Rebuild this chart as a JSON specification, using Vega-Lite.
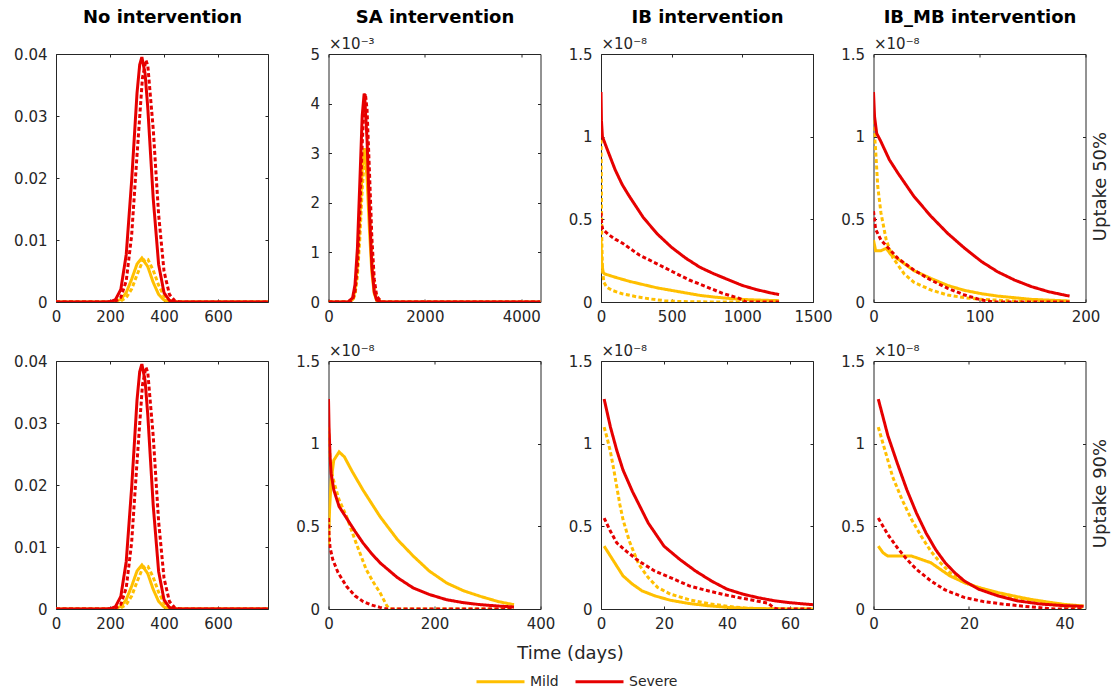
{
"$schema": "https://vega.github.io/schema/vega-lite/v6.json",
"background": "white",
"padding": {"left": 13, "top": 7, "right": 5, "bottom": 5},
"config": {
  "view": {"stroke": "#262626", "strokeWidth": 1},
  "font": "DejaVu Sans",
  "axis": {"grid": false, "domain": false, "tickSize": -3, "tickColor": "#262626", "labelFont": "DejaVu Sans", "labelFontSize": 15, "labelColor": "#262626", "labelFlush": false, "labelOverlap": false, "labelBound": false, "titleFont": "DejaVu Sans", "titleColor": "#262626"},
  "axisX": {"labelPadding": 10},
  "axisY": {"labelPadding": 12}
},
"datasets": {"d": [
{"panel":"A1","severity":"Mild","line":"solid","t":0,"y":0},{"panel":"A1","severity":"Mild","line":"solid","t":150,"y":0},{"panel":"A1","severity":"Mild","line":"solid","t":200,"y":0.00001},{"panel":"A1","severity":"Mild","line":"solid","t":220,"y":0.00009},{"panel":"A1","severity":"Mild","line":"solid","t":240,"y":0.00043},{"panel":"A1","severity":"Mild","line":"solid","t":260,"y":0.00151},{"panel":"A1","severity":"Mild","line":"solid","t":280,"y":0.00366},{"panel":"A1","severity":"Mild","line":"solid","t":300,"y":0.00612},{"panel":"A1","severity":"Mild","line":"solid","t":318,"y":0.0071},{"panel":"A1","severity":"Mild","line":"solid","t":340,"y":0.00569},{"panel":"A1","severity":"Mild","line":"solid","t":360,"y":0.00316},{"panel":"A1","severity":"Mild","line":"solid","t":380,"y":0.00122},{"panel":"A1","severity":"Mild","line":"solid","t":400,"y":0.00032},{"panel":"A1","severity":"Mild","line":"solid","t":420,"y":0.00006},{"panel":"A1","severity":"Mild","line":"solid","t":440,"y":0.00001},{"panel":"A1","severity":"Mild","line":"solid","t":460,"y":0},{"panel":"A1","severity":"Mild","line":"solid","t":785,"y":0},
{"panel":"A1","severity":"Mild","line":"dotted","t":0,"y":0},{"panel":"A1","severity":"Mild","line":"dotted","t":200,"y":0.000003},{"panel":"A1","severity":"Mild","line":"dotted","t":220,"y":0.00003},{"panel":"A1","severity":"Mild","line":"dotted","t":240,"y":0.00017},{"panel":"A1","severity":"Mild","line":"dotted","t":260,"y":0.0007},{"panel":"A1","severity":"Mild","line":"dotted","t":280,"y":0.00208},{"panel":"A1","severity":"Mild","line":"dotted","t":300,"y":0.00437},{"panel":"A1","severity":"Mild","line":"dotted","t":320,"y":0.00651},{"panel":"A1","severity":"Mild","line":"dotted","t":333,"y":0.007},{"panel":"A1","severity":"Mild","line":"dotted","t":340,"y":0.0069},{"panel":"A1","severity":"Mild","line":"dotted","t":360,"y":0.00511},{"panel":"A1","severity":"Mild","line":"dotted","t":380,"y":0.0027},{"panel":"A1","severity":"Mild","line":"dotted","t":400,"y":0.001},{"panel":"A1","severity":"Mild","line":"dotted","t":420,"y":0.00027},{"panel":"A1","severity":"Mild","line":"dotted","t":440,"y":0.00006},{"panel":"A1","severity":"Mild","line":"dotted","t":460,"y":0.00001},{"panel":"A1","severity":"Mild","line":"dotted","t":480,"y":0},{"panel":"A1","severity":"Mild","line":"dotted","t":785,"y":0},
{"panel":"A1","severity":"Severe","line":"solid","t":0,"y":0},{"panel":"A1","severity":"Severe","line":"solid","t":180,"y":0.000004},{"panel":"A1","severity":"Severe","line":"solid","t":200,"y":0.000044},{"panel":"A1","severity":"Severe","line":"solid","t":220,"y":0.00036},{"panel":"A1","severity":"Severe","line":"solid","t":240,"y":0.00203},{"panel":"A1","severity":"Severe","line":"solid","t":260,"y":0.00764},{"panel":"A1","severity":"Severe","line":"solid","t":280,"y":0.0195},{"panel":"A1","severity":"Severe","line":"solid","t":300,"y":0.0337},{"panel":"A1","severity":"Severe","line":"solid","t":310,"y":0.0383},{"panel":"A1","severity":"Severe","line":"solid","t":318,"y":0.0395},{"panel":"A1","severity":"Severe","line":"solid","t":330,"y":0.0368},{"panel":"A1","severity":"Severe","line":"solid","t":340,"y":0.0312},{"panel":"A1","severity":"Severe","line":"solid","t":360,"y":0.0167},{"panel":"A1","severity":"Severe","line":"solid","t":380,"y":0.00605},{"panel":"A1","severity":"Severe","line":"solid","t":400,"y":0.00149},{"panel":"A1","severity":"Severe","line":"solid","t":420,"y":0.00025},{"panel":"A1","severity":"Severe","line":"solid","t":440,"y":0.00003},{"panel":"A1","severity":"Severe","line":"solid","t":460,"y":0},{"panel":"A1","severity":"Severe","line":"solid","t":785,"y":0},
{"panel":"A1","severity":"Severe","line":"dotted","t":0,"y":0},{"panel":"A1","severity":"Severe","line":"dotted","t":200,"y":0.00001},{"panel":"A1","severity":"Severe","line":"dotted","t":220,"y":0.00011},{"panel":"A1","severity":"Severe","line":"dotted","t":240,"y":0.00074},{"panel":"A1","severity":"Severe","line":"dotted","t":260,"y":0.00338},{"panel":"A1","severity":"Severe","line":"dotted","t":280,"y":0.0107},{"panel":"A1","severity":"Severe","line":"dotted","t":300,"y":0.0237},{"panel":"A1","severity":"Severe","line":"dotted","t":320,"y":0.0361},{"panel":"A1","severity":"Severe","line":"dotted","t":333,"y":0.039},{"panel":"A1","severity":"Severe","line":"dotted","t":340,"y":0.0381},{"panel":"A1","severity":"Severe","line":"dotted","t":360,"y":0.0279},{"panel":"A1","severity":"Severe","line":"dotted","t":380,"y":0.0141},{"panel":"A1","severity":"Severe","line":"dotted","t":400,"y":0.00497},{"panel":"A1","severity":"Severe","line":"dotted","t":420,"y":0.00121},{"panel":"A1","severity":"Severe","line":"dotted","t":440,"y":0.0002},{"panel":"A1","severity":"Severe","line":"dotted","t":460,"y":0.00002},{"panel":"A1","severity":"Severe","line":"dotted","t":480,"y":0},{"panel":"A1","severity":"Severe","line":"dotted","t":785,"y":0},

{"panel":"B1","severity":"Mild","line":"solid","t":0,"y":0},{"panel":"B1","severity":"Mild","line":"solid","t":150,"y":0},{"panel":"B1","severity":"Mild","line":"solid","t":200,"y":0.00001},{"panel":"B1","severity":"Mild","line":"solid","t":220,"y":0.00009},{"panel":"B1","severity":"Mild","line":"solid","t":240,"y":0.00043},{"panel":"B1","severity":"Mild","line":"solid","t":260,"y":0.00151},{"panel":"B1","severity":"Mild","line":"solid","t":280,"y":0.00366},{"panel":"B1","severity":"Mild","line":"solid","t":300,"y":0.00612},{"panel":"B1","severity":"Mild","line":"solid","t":318,"y":0.0071},{"panel":"B1","severity":"Mild","line":"solid","t":340,"y":0.00569},{"panel":"B1","severity":"Mild","line":"solid","t":360,"y":0.00316},{"panel":"B1","severity":"Mild","line":"solid","t":380,"y":0.00122},{"panel":"B1","severity":"Mild","line":"solid","t":400,"y":0.00032},{"panel":"B1","severity":"Mild","line":"solid","t":420,"y":0.00006},{"panel":"B1","severity":"Mild","line":"solid","t":440,"y":0.00001},{"panel":"B1","severity":"Mild","line":"solid","t":460,"y":0},{"panel":"B1","severity":"Mild","line":"solid","t":785,"y":0},
{"panel":"B1","severity":"Mild","line":"dotted","t":0,"y":0},{"panel":"B1","severity":"Mild","line":"dotted","t":200,"y":0.000003},{"panel":"B1","severity":"Mild","line":"dotted","t":220,"y":0.00003},{"panel":"B1","severity":"Mild","line":"dotted","t":240,"y":0.00017},{"panel":"B1","severity":"Mild","line":"dotted","t":260,"y":0.0007},{"panel":"B1","severity":"Mild","line":"dotted","t":280,"y":0.00208},{"panel":"B1","severity":"Mild","line":"dotted","t":300,"y":0.00437},{"panel":"B1","severity":"Mild","line":"dotted","t":320,"y":0.00651},{"panel":"B1","severity":"Mild","line":"dotted","t":333,"y":0.007},{"panel":"B1","severity":"Mild","line":"dotted","t":340,"y":0.0069},{"panel":"B1","severity":"Mild","line":"dotted","t":360,"y":0.00511},{"panel":"B1","severity":"Mild","line":"dotted","t":380,"y":0.0027},{"panel":"B1","severity":"Mild","line":"dotted","t":400,"y":0.001},{"panel":"B1","severity":"Mild","line":"dotted","t":420,"y":0.00027},{"panel":"B1","severity":"Mild","line":"dotted","t":440,"y":0.00006},{"panel":"B1","severity":"Mild","line":"dotted","t":460,"y":0.00001},{"panel":"B1","severity":"Mild","line":"dotted","t":480,"y":0},{"panel":"B1","severity":"Mild","line":"dotted","t":785,"y":0},
{"panel":"B1","severity":"Severe","line":"solid","t":0,"y":0},{"panel":"B1","severity":"Severe","line":"solid","t":180,"y":0.000004},{"panel":"B1","severity":"Severe","line":"solid","t":200,"y":0.000044},{"panel":"B1","severity":"Severe","line":"solid","t":220,"y":0.00036},{"panel":"B1","severity":"Severe","line":"solid","t":240,"y":0.00203},{"panel":"B1","severity":"Severe","line":"solid","t":260,"y":0.00764},{"panel":"B1","severity":"Severe","line":"solid","t":280,"y":0.0195},{"panel":"B1","severity":"Severe","line":"solid","t":300,"y":0.0337},{"panel":"B1","severity":"Severe","line":"solid","t":310,"y":0.0383},{"panel":"B1","severity":"Severe","line":"solid","t":318,"y":0.0395},{"panel":"B1","severity":"Severe","line":"solid","t":330,"y":0.0368},{"panel":"B1","severity":"Severe","line":"solid","t":340,"y":0.0312},{"panel":"B1","severity":"Severe","line":"solid","t":360,"y":0.0167},{"panel":"B1","severity":"Severe","line":"solid","t":380,"y":0.00605},{"panel":"B1","severity":"Severe","line":"solid","t":400,"y":0.00149},{"panel":"B1","severity":"Severe","line":"solid","t":420,"y":0.00025},{"panel":"B1","severity":"Severe","line":"solid","t":440,"y":0.00003},{"panel":"B1","severity":"Severe","line":"solid","t":460,"y":0},{"panel":"B1","severity":"Severe","line":"solid","t":785,"y":0},
{"panel":"B1","severity":"Severe","line":"dotted","t":0,"y":0},{"panel":"B1","severity":"Severe","line":"dotted","t":200,"y":0.00001},{"panel":"B1","severity":"Severe","line":"dotted","t":220,"y":0.00011},{"panel":"B1","severity":"Severe","line":"dotted","t":240,"y":0.00074},{"panel":"B1","severity":"Severe","line":"dotted","t":260,"y":0.00338},{"panel":"B1","severity":"Severe","line":"dotted","t":280,"y":0.0107},{"panel":"B1","severity":"Severe","line":"dotted","t":300,"y":0.0237},{"panel":"B1","severity":"Severe","line":"dotted","t":320,"y":0.0361},{"panel":"B1","severity":"Severe","line":"dotted","t":333,"y":0.039},{"panel":"B1","severity":"Severe","line":"dotted","t":340,"y":0.0381},{"panel":"B1","severity":"Severe","line":"dotted","t":360,"y":0.0279},{"panel":"B1","severity":"Severe","line":"dotted","t":380,"y":0.0141},{"panel":"B1","severity":"Severe","line":"dotted","t":400,"y":0.00497},{"panel":"B1","severity":"Severe","line":"dotted","t":420,"y":0.00121},{"panel":"B1","severity":"Severe","line":"dotted","t":440,"y":0.0002},{"panel":"B1","severity":"Severe","line":"dotted","t":460,"y":0.00002},{"panel":"B1","severity":"Severe","line":"dotted","t":480,"y":0},{"panel":"B1","severity":"Severe","line":"dotted","t":785,"y":0},

{"panel":"A2","severity":"Mild","line":"solid","t":0,"y":0},{"panel":"A2","severity":"Mild","line":"solid","t":400,"y":0},{"panel":"A2","severity":"Mild","line":"solid","t":500,"y":0.00005},{"panel":"A2","severity":"Mild","line":"solid","t":550,"y":0.00022},{"panel":"A2","severity":"Mild","line":"solid","t":600,"y":0.00072},{"panel":"A2","severity":"Mild","line":"solid","t":650,"y":0.00166},{"panel":"A2","severity":"Mild","line":"solid","t":700,"y":0.0027},{"panel":"A2","severity":"Mild","line":"solid","t":745,"y":0.0031},{"panel":"A2","severity":"Mild","line":"solid","t":800,"y":0.00251},{"panel":"A2","severity":"Mild","line":"solid","t":850,"y":0.00145},{"panel":"A2","severity":"Mild","line":"solid","t":900,"y":0.00059},{"panel":"A2","severity":"Mild","line":"solid","t":950,"y":0.00017},{"panel":"A2","severity":"Mild","line":"solid","t":1000,"y":0.00003},{"panel":"A2","severity":"Mild","line":"solid","t":1100,"y":0},{"panel":"A2","severity":"Mild","line":"solid","t":4400,"y":0},
{"panel":"A2","severity":"Mild","line":"dotted","t":0,"y":0},{"panel":"A2","severity":"Mild","line":"dotted","t":450,"y":0},{"panel":"A2","severity":"Mild","line":"dotted","t":500,"y":0.00003},{"panel":"A2","severity":"Mild","line":"dotted","t":550,"y":0.00015},{"panel":"A2","severity":"Mild","line":"dotted","t":600,"y":0.00052},{"panel":"A2","severity":"Mild","line":"dotted","t":650,"y":0.00128},{"panel":"A2","severity":"Mild","line":"dotted","t":700,"y":0.00228},{"panel":"A2","severity":"Mild","line":"dotted","t":750,"y":0.00296},{"panel":"A2","severity":"Mild","line":"dotted","t":765,"y":0.003},{"panel":"A2","severity":"Mild","line":"dotted","t":800,"y":0.00277},{"panel":"A2","severity":"Mild","line":"dotted","t":850,"y":0.00188},{"panel":"A2","severity":"Mild","line":"dotted","t":900,"y":0.00092},{"panel":"A2","severity":"Mild","line":"dotted","t":950,"y":0.00033},{"panel":"A2","severity":"Mild","line":"dotted","t":1000,"y":0.00008},{"panel":"A2","severity":"Mild","line":"dotted","t":1100,"y":0},{"panel":"A2","severity":"Mild","line":"dotted","t":4400,"y":0},
{"panel":"A2","severity":"Severe","line":"solid","t":0,"y":0},{"panel":"A2","severity":"Severe","line":"solid","t":400,"y":0},{"panel":"A2","severity":"Severe","line":"solid","t":500,"y":0.00008},{"panel":"A2","severity":"Severe","line":"solid","t":550,"y":0.00035},{"panel":"A2","severity":"Severe","line":"solid","t":600,"y":0.00108},{"panel":"A2","severity":"Severe","line":"solid","t":650,"y":0.0024},{"panel":"A2","severity":"Severe","line":"solid","t":700,"y":0.00376},{"panel":"A2","severity":"Severe","line":"solid","t":740,"y":0.0042},{"panel":"A2","severity":"Severe","line":"solid","t":750,"y":0.00417},{"panel":"A2","severity":"Severe","line":"solid","t":800,"y":0.00327},{"panel":"A2","severity":"Severe","line":"solid","t":850,"y":0.00182},{"panel":"A2","severity":"Severe","line":"solid","t":900,"y":0.00072},{"panel":"A2","severity":"Severe","line":"solid","t":950,"y":0.0002},{"panel":"A2","severity":"Severe","line":"solid","t":1000,"y":0.00004},{"panel":"A2","severity":"Severe","line":"solid","t":1100,"y":0},{"panel":"A2","severity":"Severe","line":"solid","t":4400,"y":0},
{"panel":"A2","severity":"Severe","line":"dotted","t":0,"y":0},{"panel":"A2","severity":"Severe","line":"dotted","t":450,"y":0},{"panel":"A2","severity":"Severe","line":"dotted","t":500,"y":0.00005},{"panel":"A2","severity":"Severe","line":"dotted","t":550,"y":0.00021},{"panel":"A2","severity":"Severe","line":"dotted","t":600,"y":0.00072},{"panel":"A2","severity":"Severe","line":"dotted","t":650,"y":0.00179},{"panel":"A2","severity":"Severe","line":"dotted","t":700,"y":0.0032},{"panel":"A2","severity":"Severe","line":"dotted","t":750,"y":0.00414},{"panel":"A2","severity":"Severe","line":"dotted","t":765,"y":0.0042},{"panel":"A2","severity":"Severe","line":"dotted","t":800,"y":0.00388},{"panel":"A2","severity":"Severe","line":"dotted","t":850,"y":0.00263},{"panel":"A2","severity":"Severe","line":"dotted","t":900,"y":0.00129},{"panel":"A2","severity":"Severe","line":"dotted","t":950,"y":0.00046},{"panel":"A2","severity":"Severe","line":"dotted","t":1000,"y":0.00012},{"panel":"A2","severity":"Severe","line":"dotted","t":1100,"y":0},{"panel":"A2","severity":"Severe","line":"dotted","t":4400,"y":0},

{"panel":"A3","severity":"Mild","line":"solid","t":0,"y":0.37e-8},{"panel":"A3","severity":"Mild","line":"solid","t":5,"y":0.24e-8},{"panel":"A3","severity":"Mild","line":"solid","t":15,"y":0.18e-8},{"panel":"A3","severity":"Mild","line":"solid","t":25,"y":0.17e-8},{"panel":"A3","severity":"Mild","line":"solid","t":100,"y":0.15e-8},{"panel":"A3","severity":"Mild","line":"solid","t":200,"y":0.125e-8},{"panel":"A3","severity":"Mild","line":"solid","t":300,"y":0.105e-8},{"panel":"A3","severity":"Mild","line":"solid","t":400,"y":0.085e-8},{"panel":"A3","severity":"Mild","line":"solid","t":500,"y":0.07e-8},{"panel":"A3","severity":"Mild","line":"solid","t":600,"y":0.055e-8},{"panel":"A3","severity":"Mild","line":"solid","t":700,"y":0.04e-8},{"panel":"A3","severity":"Mild","line":"solid","t":800,"y":0.03e-8},{"panel":"A3","severity":"Mild","line":"solid","t":900,"y":0.022e-8},{"panel":"A3","severity":"Mild","line":"solid","t":1000,"y":0.016e-8},{"panel":"A3","severity":"Mild","line":"solid","t":1100,"y":0.012e-8},{"panel":"A3","severity":"Mild","line":"solid","t":1260,"y":0.008e-8},
{"panel":"A3","severity":"Mild","line":"dotted","t":0,"y":1.1e-8},{"panel":"A3","severity":"Mild","line":"dotted","t":2,"y":0.8e-8},{"panel":"A3","severity":"Mild","line":"dotted","t":5,"y":0.4e-8},{"panel":"A3","severity":"Mild","line":"dotted","t":10,"y":0.2e-8},{"panel":"A3","severity":"Mild","line":"dotted","t":20,"y":0.12e-8},{"panel":"A3","severity":"Mild","line":"dotted","t":40,"y":0.09e-8},{"panel":"A3","severity":"Mild","line":"dotted","t":80,"y":0.07e-8},{"panel":"A3","severity":"Mild","line":"dotted","t":150,"y":0.05e-8},{"panel":"A3","severity":"Mild","line":"dotted","t":250,"y":0.032e-8},{"panel":"A3","severity":"Mild","line":"dotted","t":350,"y":0.018e-8},{"panel":"A3","severity":"Mild","line":"dotted","t":450,"y":0.008e-8},{"panel":"A3","severity":"Mild","line":"dotted","t":550,"y":0.003e-8},{"panel":"A3","severity":"Mild","line":"dotted","t":700,"y":0.001e-8},{"panel":"A3","severity":"Mild","line":"dotted","t":800,"y":0},{"panel":"A3","severity":"Mild","line":"dotted","t":1260,"y":0},
{"panel":"A3","severity":"Severe","line":"solid","t":0,"y":1.27e-8},{"panel":"A3","severity":"Severe","line":"solid","t":3,"y":1.1e-8},{"panel":"A3","severity":"Severe","line":"solid","t":10,"y":1.0e-8},{"panel":"A3","severity":"Severe","line":"solid","t":50,"y":0.91e-8},{"panel":"A3","severity":"Severe","line":"solid","t":100,"y":0.8e-8},{"panel":"A3","severity":"Severe","line":"solid","t":150,"y":0.71e-8},{"panel":"A3","severity":"Severe","line":"solid","t":200,"y":0.64e-8},{"panel":"A3","severity":"Severe","line":"solid","t":300,"y":0.51e-8},{"panel":"A3","severity":"Severe","line":"solid","t":400,"y":0.41e-8},{"panel":"A3","severity":"Severe","line":"solid","t":500,"y":0.33e-8},{"panel":"A3","severity":"Severe","line":"solid","t":600,"y":0.265e-8},{"panel":"A3","severity":"Severe","line":"solid","t":700,"y":0.21e-8},{"panel":"A3","severity":"Severe","line":"solid","t":800,"y":0.17e-8},{"panel":"A3","severity":"Severe","line":"solid","t":900,"y":0.135e-8},{"panel":"A3","severity":"Severe","line":"solid","t":1000,"y":0.1e-8},{"panel":"A3","severity":"Severe","line":"solid","t":1100,"y":0.075e-8},{"panel":"A3","severity":"Severe","line":"solid","t":1200,"y":0.055e-8},{"panel":"A3","severity":"Severe","line":"solid","t":1260,"y":0.045e-8},
{"panel":"A3","severity":"Severe","line":"dotted","t":0,"y":0.54e-8},{"panel":"A3","severity":"Severe","line":"dotted","t":5,"y":0.47e-8},{"panel":"A3","severity":"Severe","line":"dotted","t":12,"y":0.44e-8},{"panel":"A3","severity":"Severe","line":"dotted","t":50,"y":0.41e-8},{"panel":"A3","severity":"Severe","line":"dotted","t":100,"y":0.38e-8},{"panel":"A3","severity":"Severe","line":"dotted","t":153,"y":0.355e-8},{"panel":"A3","severity":"Severe","line":"dotted","t":271,"y":0.284e-8},{"panel":"A3","severity":"Severe","line":"dotted","t":389,"y":0.234e-8},{"panel":"A3","severity":"Severe","line":"dotted","t":507,"y":0.183e-8},{"panel":"A3","severity":"Severe","line":"dotted","t":625,"y":0.133e-8},{"panel":"A3","severity":"Severe","line":"dotted","t":743,"y":0.093e-8},{"panel":"A3","severity":"Severe","line":"dotted","t":861,"y":0.052e-8},{"panel":"A3","severity":"Severe","line":"dotted","t":979,"y":0.022e-8},{"panel":"A3","severity":"Severe","line":"dotted","t":1026,"y":0},{"panel":"A3","severity":"Severe","line":"dotted","t":1260,"y":0},

{"panel":"A4","severity":"Mild","line":"solid","t":0,"y":0.375e-8},{"panel":"A4","severity":"Mild","line":"solid","t":2,"y":0.31e-8},{"panel":"A4","severity":"Mild","line":"solid","t":7,"y":0.31e-8},{"panel":"A4","severity":"Mild","line":"solid","t":12,"y":0.325e-8},{"panel":"A4","severity":"Mild","line":"solid","t":16,"y":0.29e-8},{"panel":"A4","severity":"Mild","line":"solid","t":23,"y":0.26e-8},{"panel":"A4","severity":"Mild","line":"solid","t":38,"y":0.19e-8},{"panel":"A4","severity":"Mild","line":"solid","t":54,"y":0.143e-8},{"panel":"A4","severity":"Mild","line":"solid","t":70,"y":0.1e-8},{"panel":"A4","severity":"Mild","line":"solid","t":86,"y":0.07e-8},{"panel":"A4","severity":"Mild","line":"solid","t":102,"y":0.05e-8},{"panel":"A4","severity":"Mild","line":"solid","t":117,"y":0.036e-8},{"panel":"A4","severity":"Mild","line":"solid","t":149,"y":0.016e-8},{"panel":"A4","severity":"Mild","line":"solid","t":185,"y":0.006e-8},
{"panel":"A4","severity":"Mild","line":"dotted","t":0,"y":1.1e-8},{"panel":"A4","severity":"Mild","line":"dotted","t":2,"y":0.92e-8},{"panel":"A4","severity":"Mild","line":"dotted","t":4,"y":0.7e-8},{"panel":"A4","severity":"Mild","line":"dotted","t":7,"y":0.54e-8},{"panel":"A4","severity":"Mild","line":"dotted","t":12,"y":0.375e-8},{"panel":"A4","severity":"Mild","line":"dotted","t":18,"y":0.27e-8},{"panel":"A4","severity":"Mild","line":"dotted","t":29,"y":0.17e-8},{"panel":"A4","severity":"Mild","line":"dotted","t":38,"y":0.12e-8},{"panel":"A4","severity":"Mild","line":"dotted","t":54,"y":0.073e-8},{"panel":"A4","severity":"Mild","line":"dotted","t":70,"y":0.042e-8},{"panel":"A4","severity":"Mild","line":"dotted","t":86,"y":0.026e-8},{"panel":"A4","severity":"Mild","line":"dotted","t":102,"y":0.016e-8},{"panel":"A4","severity":"Mild","line":"dotted","t":133,"y":0.006e-8},{"panel":"A4","severity":"Mild","line":"dotted","t":185,"y":0},
{"panel":"A4","severity":"Severe","line":"solid","t":0,"y":1.27e-8},{"panel":"A4","severity":"Severe","line":"solid","t":1,"y":1.12e-8},{"panel":"A4","severity":"Severe","line":"solid","t":3,"y":1.02e-8},{"panel":"A4","severity":"Severe","line":"solid","t":7,"y":0.97e-8},{"panel":"A4","severity":"Severe","line":"solid","t":15,"y":0.86e-8},{"panel":"A4","severity":"Severe","line":"solid","t":23,"y":0.78e-8},{"panel":"A4","severity":"Severe","line":"solid","t":38,"y":0.64e-8},{"panel":"A4","severity":"Severe","line":"solid","t":54,"y":0.52e-8},{"panel":"A4","severity":"Severe","line":"solid","t":70,"y":0.415e-8},{"panel":"A4","severity":"Severe","line":"solid","t":86,"y":0.325e-8},{"panel":"A4","severity":"Severe","line":"solid","t":102,"y":0.244e-8},{"panel":"A4","severity":"Severe","line":"solid","t":117,"y":0.183e-8},{"panel":"A4","severity":"Severe","line":"solid","t":133,"y":0.133e-8},{"panel":"A4","severity":"Severe","line":"solid","t":149,"y":0.093e-8},{"panel":"A4","severity":"Severe","line":"solid","t":165,"y":0.0625e-8},{"panel":"A4","severity":"Severe","line":"solid","t":180,"y":0.042e-8},{"panel":"A4","severity":"Severe","line":"solid","t":185,"y":0.036e-8},
{"panel":"A4","severity":"Severe","line":"dotted","t":0,"y":0.55e-8},{"panel":"A4","severity":"Severe","line":"dotted","t":2,"y":0.44e-8},{"panel":"A4","severity":"Severe","line":"dotted","t":7,"y":0.375e-8},{"panel":"A4","severity":"Severe","line":"dotted","t":23,"y":0.264e-8},{"panel":"A4","severity":"Severe","line":"dotted","t":38,"y":0.194e-8},{"panel":"A4","severity":"Severe","line":"dotted","t":54,"y":0.133e-8},{"panel":"A4","severity":"Severe","line":"dotted","t":70,"y":0.083e-8},{"panel":"A4","severity":"Severe","line":"dotted","t":86,"y":0.042e-8},{"panel":"A4","severity":"Severe","line":"dotted","t":102,"y":0.012e-8},{"panel":"A4","severity":"Severe","line":"dotted","t":114,"y":0},{"panel":"A4","severity":"Severe","line":"dotted","t":185,"y":0},

{"panel":"B2","severity":"Mild","line":"solid","t":0,"y":0.38e-8},{"panel":"B2","severity":"Mild","line":"solid","t":2,"y":0.6e-8},{"panel":"B2","severity":"Mild","line":"solid","t":5,"y":0.78e-8},{"panel":"B2","severity":"Mild","line":"solid","t":10,"y":0.9e-8},{"panel":"B2","severity":"Mild","line":"solid","t":20,"y":0.95e-8},{"panel":"B2","severity":"Mild","line":"solid","t":30,"y":0.92e-8},{"panel":"B2","severity":"Mild","line":"solid","t":45,"y":0.83e-8},{"panel":"B2","severity":"Mild","line":"solid","t":65,"y":0.72e-8},{"panel":"B2","severity":"Mild","line":"solid","t":97,"y":0.56e-8},{"panel":"B2","severity":"Mild","line":"solid","t":130,"y":0.42e-8},{"panel":"B2","severity":"Mild","line":"solid","t":160,"y":0.32e-8},{"panel":"B2","severity":"Mild","line":"solid","t":190,"y":0.23e-8},{"panel":"B2","severity":"Mild","line":"solid","t":223,"y":0.157e-8},{"panel":"B2","severity":"Mild","line":"solid","t":255,"y":0.11e-8},{"panel":"B2","severity":"Mild","line":"solid","t":287,"y":0.076e-8},{"panel":"B2","severity":"Mild","line":"solid","t":320,"y":0.045e-8},{"panel":"B2","severity":"Mild","line":"solid","t":350,"y":0.026e-8},
{"panel":"B2","severity":"Mild","line":"dotted","t":0,"y":1.1e-8},{"panel":"B2","severity":"Mild","line":"dotted","t":3,"y":0.9e-8},{"panel":"B2","severity":"Mild","line":"dotted","t":5,"y":0.84e-8},{"panel":"B2","severity":"Mild","line":"dotted","t":11,"y":0.76e-8},{"panel":"B2","severity":"Mild","line":"dotted","t":20,"y":0.66e-8},{"panel":"B2","severity":"Mild","line":"dotted","t":34,"y":0.56e-8},{"panel":"B2","severity":"Mild","line":"dotted","t":52,"y":0.4e-8},{"panel":"B2","severity":"Mild","line":"dotted","t":71,"y":0.24e-8},{"panel":"B2","severity":"Mild","line":"dotted","t":85,"y":0.16e-8},{"panel":"B2","severity":"Mild","line":"dotted","t":97,"y":0.1e-8},{"panel":"B2","severity":"Mild","line":"dotted","t":110,"y":0.02e-8},{"panel":"B2","severity":"Mild","line":"dotted","t":115,"y":0},{"panel":"B2","severity":"Mild","line":"dotted","t":350,"y":0},
{"panel":"B2","severity":"Severe","line":"solid","t":0,"y":1.27e-8},{"panel":"B2","severity":"Severe","line":"solid","t":1,"y":1.1e-8},{"panel":"B2","severity":"Severe","line":"solid","t":3,"y":0.92e-8},{"panel":"B2","severity":"Severe","line":"solid","t":5,"y":0.82e-8},{"panel":"B2","severity":"Severe","line":"solid","t":10,"y":0.72e-8},{"panel":"B2","severity":"Severe","line":"solid","t":20,"y":0.62e-8},{"panel":"B2","severity":"Severe","line":"solid","t":34,"y":0.55e-8},{"panel":"B2","severity":"Severe","line":"solid","t":50,"y":0.47e-8},{"panel":"B2","severity":"Severe","line":"solid","t":65,"y":0.4e-8},{"panel":"B2","severity":"Severe","line":"solid","t":80,"y":0.34e-8},{"panel":"B2","severity":"Severe","line":"solid","t":97,"y":0.28e-8},{"panel":"B2","severity":"Severe","line":"solid","t":130,"y":0.19e-8},{"panel":"B2","severity":"Severe","line":"solid","t":160,"y":0.127e-8},{"panel":"B2","severity":"Severe","line":"solid","t":190,"y":0.088e-8},{"panel":"B2","severity":"Severe","line":"solid","t":223,"y":0.056e-8},{"panel":"B2","severity":"Severe","line":"solid","t":255,"y":0.038e-8},{"panel":"B2","severity":"Severe","line":"solid","t":287,"y":0.026e-8},{"panel":"B2","severity":"Severe","line":"solid","t":320,"y":0.018e-8},{"panel":"B2","severity":"Severe","line":"solid","t":350,"y":0.012e-8},
{"panel":"B2","severity":"Severe","line":"dotted","t":0,"y":0.55e-8},{"panel":"B2","severity":"Severe","line":"dotted","t":1,"y":0.45e-8},{"panel":"B2","severity":"Severe","line":"dotted","t":3,"y":0.37e-8},{"panel":"B2","severity":"Severe","line":"dotted","t":8,"y":0.3e-8},{"panel":"B2","severity":"Severe","line":"dotted","t":18,"y":0.22e-8},{"panel":"B2","severity":"Severe","line":"dotted","t":34,"y":0.137e-8},{"panel":"B2","severity":"Severe","line":"dotted","t":50,"y":0.08e-8},{"panel":"B2","severity":"Severe","line":"dotted","t":65,"y":0.046e-8},{"panel":"B2","severity":"Severe","line":"dotted","t":80,"y":0.025e-8},{"panel":"B2","severity":"Severe","line":"dotted","t":97,"y":0.01e-8},{"panel":"B2","severity":"Severe","line":"dotted","t":110,"y":0},{"panel":"B2","severity":"Severe","line":"dotted","t":350,"y":0},

{"panel":"B3","severity":"Mild","line":"solid","t":1,"y":0.38e-8},{"panel":"B3","severity":"Mild","line":"solid","t":2,"y":0.35e-8},{"panel":"B3","severity":"Mild","line":"solid","t":4,"y":0.29e-8},{"panel":"B3","severity":"Mild","line":"solid","t":7,"y":0.2e-8},{"panel":"B3","severity":"Mild","line":"solid","t":10,"y":0.15e-8},{"panel":"B3","severity":"Mild","line":"solid","t":13,"y":0.11e-8},{"panel":"B3","severity":"Mild","line":"solid","t":17,"y":0.08e-8},{"panel":"B3","severity":"Mild","line":"solid","t":22,"y":0.053e-8},{"panel":"B3","severity":"Mild","line":"solid","t":28,"y":0.033e-8},{"panel":"B3","severity":"Mild","line":"solid","t":34,"y":0.02e-8},{"panel":"B3","severity":"Mild","line":"solid","t":40,"y":0.01e-8},{"panel":"B3","severity":"Mild","line":"solid","t":46,"y":0.004e-8},{"panel":"B3","severity":"Mild","line":"solid","t":55,"y":0.001e-8},{"panel":"B3","severity":"Mild","line":"solid","t":67.3,"y":0},
{"panel":"B3","severity":"Mild","line":"dotted","t":1,"y":1.1e-8},{"panel":"B3","severity":"Mild","line":"dotted","t":2,"y":1.03e-8},{"panel":"B3","severity":"Mild","line":"dotted","t":3,"y":0.95e-8},{"panel":"B3","severity":"Mild","line":"dotted","t":4,"y":0.85e-8},{"panel":"B3","severity":"Mild","line":"dotted","t":5,"y":0.74e-8},{"panel":"B3","severity":"Mild","line":"dotted","t":6,"y":0.63e-8},{"panel":"B3","severity":"Mild","line":"dotted","t":7,"y":0.54e-8},{"panel":"B3","severity":"Mild","line":"dotted","t":9,"y":0.41e-8},{"panel":"B3","severity":"Mild","line":"dotted","t":12,"y":0.27e-8},{"panel":"B3","severity":"Mild","line":"dotted","t":15,"y":0.19e-8},{"panel":"B3","severity":"Mild","line":"dotted","t":18,"y":0.13e-8},{"panel":"B3","severity":"Mild","line":"dotted","t":22,"y":0.09e-8},{"panel":"B3","severity":"Mild","line":"dotted","t":28,"y":0.056e-8},{"panel":"B3","severity":"Mild","line":"dotted","t":34,"y":0.033e-8},{"panel":"B3","severity":"Mild","line":"dotted","t":40,"y":0.017e-8},{"panel":"B3","severity":"Mild","line":"dotted","t":46,"y":0.005e-8},{"panel":"B3","severity":"Mild","line":"dotted","t":55,"y":0.001e-8},{"panel":"B3","severity":"Mild","line":"dotted","t":67.3,"y":0},
{"panel":"B3","severity":"Severe","line":"solid","t":1,"y":1.27e-8},{"panel":"B3","severity":"Severe","line":"solid","t":3,"y":1.1e-8},{"panel":"B3","severity":"Severe","line":"solid","t":5,"y":0.96e-8},{"panel":"B3","severity":"Severe","line":"solid","t":7,"y":0.84e-8},{"panel":"B3","severity":"Severe","line":"solid","t":10,"y":0.71e-8},{"panel":"B3","severity":"Severe","line":"solid","t":15,"y":0.52e-8},{"panel":"B3","severity":"Severe","line":"solid","t":20,"y":0.38e-8},{"panel":"B3","severity":"Severe","line":"solid","t":25,"y":0.3e-8},{"panel":"B3","severity":"Severe","line":"solid","t":30,"y":0.23e-8},{"panel":"B3","severity":"Severe","line":"solid","t":35,"y":0.17e-8},{"panel":"B3","severity":"Severe","line":"solid","t":40,"y":0.12e-8},{"panel":"B3","severity":"Severe","line":"solid","t":45,"y":0.09e-8},{"panel":"B3","severity":"Severe","line":"solid","t":50,"y":0.068e-8},{"panel":"B3","severity":"Severe","line":"solid","t":55,"y":0.05e-8},{"panel":"B3","severity":"Severe","line":"solid","t":60,"y":0.038e-8},{"panel":"B3","severity":"Severe","line":"solid","t":67.3,"y":0.026e-8},
{"panel":"B3","severity":"Severe","line":"dotted","t":1,"y":0.55e-8},{"panel":"B3","severity":"Severe","line":"dotted","t":3,"y":0.47e-8},{"panel":"B3","severity":"Severe","line":"dotted","t":5,"y":0.4e-8},{"panel":"B3","severity":"Severe","line":"dotted","t":8,"y":0.35e-8},{"panel":"B3","severity":"Severe","line":"dotted","t":12,"y":0.29e-8},{"panel":"B3","severity":"Severe","line":"dotted","t":17,"y":0.23e-8},{"panel":"B3","severity":"Severe","line":"dotted","t":22,"y":0.19e-8},{"panel":"B3","severity":"Severe","line":"dotted","t":28,"y":0.14e-8},{"panel":"B3","severity":"Severe","line":"dotted","t":33,"y":0.115e-8},{"panel":"B3","severity":"Severe","line":"dotted","t":39,"y":0.087e-8},{"panel":"B3","severity":"Severe","line":"dotted","t":44,"y":0.068e-8},{"panel":"B3","severity":"Severe","line":"dotted","t":49,"y":0.05e-8},{"panel":"B3","severity":"Severe","line":"dotted","t":53,"y":0.035e-8},{"panel":"B3","severity":"Severe","line":"dotted","t":55,"y":0.005e-8},{"panel":"B3","severity":"Severe","line":"dotted","t":56,"y":0},{"panel":"B3","severity":"Severe","line":"dotted","t":67.3,"y":0},

{"panel":"B4","severity":"Mild","line":"solid","t":1,"y":0.38e-8},{"panel":"B4","severity":"Mild","line":"solid","t":2,"y":0.34e-8},{"panel":"B4","severity":"Mild","line":"solid","t":3,"y":0.32e-8},{"panel":"B4","severity":"Mild","line":"solid","t":5,"y":0.32e-8},{"panel":"B4","severity":"Mild","line":"solid","t":8,"y":0.32e-8},{"panel":"B4","severity":"Mild","line":"solid","t":10,"y":0.3e-8},{"panel":"B4","severity":"Mild","line":"solid","t":12,"y":0.28e-8},{"panel":"B4","severity":"Mild","line":"solid","t":14,"y":0.24e-8},{"panel":"B4","severity":"Mild","line":"solid","t":16,"y":0.2e-8},{"panel":"B4","severity":"Mild","line":"solid","t":19,"y":0.16e-8},{"panel":"B4","severity":"Mild","line":"solid","t":22,"y":0.13e-8},{"panel":"B4","severity":"Mild","line":"solid","t":26,"y":0.1e-8},{"panel":"B4","severity":"Mild","line":"solid","t":30,"y":0.075e-8},{"panel":"B4","severity":"Mild","line":"solid","t":33,"y":0.058e-8},{"panel":"B4","severity":"Mild","line":"solid","t":37,"y":0.04e-8},{"panel":"B4","severity":"Mild","line":"solid","t":40,"y":0.028e-8},{"panel":"B4","severity":"Mild","line":"solid","t":44,"y":0.018e-8},
{"panel":"B4","severity":"Mild","line":"dotted","t":1,"y":1.1e-8},{"panel":"B4","severity":"Mild","line":"dotted","t":2,"y":1.0e-8},{"panel":"B4","severity":"Mild","line":"dotted","t":4,"y":0.8e-8},{"panel":"B4","severity":"Mild","line":"dotted","t":6,"y":0.66e-8},{"panel":"B4","severity":"Mild","line":"dotted","t":8,"y":0.54e-8},{"panel":"B4","severity":"Mild","line":"dotted","t":10,"y":0.44e-8},{"panel":"B4","severity":"Mild","line":"dotted","t":12,"y":0.35e-8},{"panel":"B4","severity":"Mild","line":"dotted","t":14,"y":0.28e-8},{"panel":"B4","severity":"Mild","line":"dotted","t":16,"y":0.22e-8},{"panel":"B4","severity":"Mild","line":"dotted","t":19,"y":0.16e-8},{"panel":"B4","severity":"Mild","line":"dotted","t":22,"y":0.13e-8},{"panel":"B4","severity":"Mild","line":"dotted","t":26,"y":0.095e-8},{"panel":"B4","severity":"Mild","line":"dotted","t":30,"y":0.065e-8},{"panel":"B4","severity":"Mild","line":"dotted","t":33,"y":0.047e-8},{"panel":"B4","severity":"Mild","line":"dotted","t":37,"y":0.028e-8},{"panel":"B4","severity":"Mild","line":"dotted","t":40,"y":0.017e-8},{"panel":"B4","severity":"Mild","line":"dotted","t":44,"y":0.008e-8},
{"panel":"B4","severity":"Severe","line":"solid","t":1,"y":1.27e-8},{"panel":"B4","severity":"Severe","line":"solid","t":3,"y":1.05e-8},{"panel":"B4","severity":"Severe","line":"solid","t":5,"y":0.88e-8},{"panel":"B4","severity":"Severe","line":"solid","t":7,"y":0.72e-8},{"panel":"B4","severity":"Severe","line":"solid","t":9,"y":0.58e-8},{"panel":"B4","severity":"Severe","line":"solid","t":11,"y":0.46e-8},{"panel":"B4","severity":"Severe","line":"solid","t":13,"y":0.36e-8},{"panel":"B4","severity":"Severe","line":"solid","t":15,"y":0.28e-8},{"panel":"B4","severity":"Severe","line":"solid","t":17,"y":0.22e-8},{"panel":"B4","severity":"Severe","line":"solid","t":19,"y":0.17e-8},{"panel":"B4","severity":"Severe","line":"solid","t":22,"y":0.12e-8},{"panel":"B4","severity":"Severe","line":"solid","t":26,"y":0.08e-8},{"panel":"B4","severity":"Severe","line":"solid","t":30,"y":0.05e-8},{"panel":"B4","severity":"Severe","line":"solid","t":35,"y":0.03e-8},{"panel":"B4","severity":"Severe","line":"solid","t":40,"y":0.02e-8},{"panel":"B4","severity":"Severe","line":"solid","t":44,"y":0.016e-8},
{"panel":"B4","severity":"Severe","line":"dotted","t":1,"y":0.55e-8},{"panel":"B4","severity":"Severe","line":"dotted","t":3,"y":0.45e-8},{"panel":"B4","severity":"Severe","line":"dotted","t":5,"y":0.37e-8},{"panel":"B4","severity":"Severe","line":"dotted","t":7,"y":0.3e-8},{"panel":"B4","severity":"Severe","line":"dotted","t":9,"y":0.24e-8},{"panel":"B4","severity":"Severe","line":"dotted","t":12,"y":0.17e-8},{"panel":"B4","severity":"Severe","line":"dotted","t":15,"y":0.115e-8},{"panel":"B4","severity":"Severe","line":"dotted","t":19,"y":0.07e-8},{"panel":"B4","severity":"Severe","line":"dotted","t":23,"y":0.045e-8},{"panel":"B4","severity":"Severe","line":"dotted","t":27,"y":0.03e-8},{"panel":"B4","severity":"Severe","line":"dotted","t":31,"y":0.018e-8},{"panel":"B4","severity":"Severe","line":"dotted","t":34,"y":0.01e-8},{"panel":"B4","severity":"Severe","line":"dotted","t":37,"y":0.002e-8},{"panel":"B4","severity":"Severe","line":"dotted","t":38,"y":0},{"panel":"B4","severity":"Severe","line":"dotted","t":44,"y":0}
]},
"data": {"name": "d"},
"columns": 4,
"spacing": {"row": 59, "column": 60.5},
"bounds": "flush",
"concat": [
 {"width": 212, "height": 248, "transform": [{"filter": "datum.panel === 'A1'"}], "resolve": {"axis": {"x": "independent", "y": "independent"}},
  "layer": [
   {"mark": {"type": "line", "strokeWidth": 3, "clip": true},
    "encoding": {
     "x": {"field": "t", "type": "quantitative", "scale": {"domain": [0, 785], "nice": false, "zero": false}, "axis": {"orient": "bottom", "values": [0, 200, 400, 600], "format": "d", "title": null}},
     "y": {"field": "y", "type": "quantitative", "scale": {"domain": [0, 0.04], "nice": false}, "axis": {"orient": "left", "values": [0, 0.01, 0.02, 0.03, 0.04], "format": "~g", "title": null}},
     "color": {"field": "severity", "type": "nominal", "title": null, "scale": {"domain": ["Mild", "Severe"], "range": ["#FFBF00", "#E60000"]}, "legend": {"orient": "none", "legendX": 419, "legendY": 602, "direction": "horizontal", "symbolType": "stroke", "symbolSize": 2304, "symbolStrokeWidth": 3, "labelFontSize": 14, "labelFont": "DejaVu Sans", "labelColor": "#262626", "columnPadding": 10, "labelOffset": 4}},
     "strokeDash": {"field": "line", "type": "nominal", "scale": {"domain": ["solid", "dotted"], "range": [[1, 0], [4, 2.5]]}, "legend": null}
    }},
   {"mark": {"type": "line", "opacity": 0},
    "encoding": {
     "x": {"field": "t", "type": "quantitative", "scale": {"domain": [0, 785], "nice": false, "zero": false}, "axis": {"orient": "top", "values": [0, 200, 400, 600], "labels": false, "title": "No intervention", "titleY": -32, "titleBaseline": "alphabetic", "titleFontSize": 18, "titleFontWeight": "bold", "titleColor": "#000000"}},
     "y": {"field": "y", "type": "quantitative", "scale": {"domain": [0, 0.04], "nice": false}, "axis": {"orient": "right", "values": [0, 0.01, 0.02, 0.03, 0.04], "labels": false, "title": null}}
    }}
  ]},
 {"width": 212, "height": 248, "transform": [{"filter": "datum.panel === 'A2'"}], "resolve": {"axis": {"x": "independent", "y": "independent"}},
  "layer": [
   {"mark": {"type": "line", "strokeWidth": 3, "clip": true},
    "encoding": {
     "x": {"field": "t", "type": "quantitative", "scale": {"domain": [0, 4400], "nice": false, "zero": false}, "axis": {"orient": "bottom", "values": [0, 2000, 4000], "format": "d", "title": null}},
     "y": {"field": "y", "type": "quantitative", "scale": {"domain": [0, 0.005], "nice": false}, "axis": {"orient": "left", "values": [0, 0.001, 0.002, 0.003, 0.004, 0.005], "labelExpr": "format(datum.value*1000, '~g')", "title": "×10⁻³", "titleAngle": 0, "titleAlign": "left", "titleBaseline": "alphabetic", "titleX": 0, "titleY": -6, "titleFontSize": 15, "titleFontWeight": "normal"}},
     "color": {"field": "severity", "type": "nominal", "title": null, "scale": {"domain": ["Mild", "Severe"], "range": ["#FFBF00", "#E60000"]}, "legend": {"orient": "none", "legendX": 419, "legendY": 602, "direction": "horizontal", "symbolType": "stroke", "symbolSize": 2304, "symbolStrokeWidth": 3, "labelFontSize": 14, "labelFont": "DejaVu Sans", "labelColor": "#262626", "columnPadding": 10, "labelOffset": 4}},
     "strokeDash": {"field": "line", "type": "nominal", "scale": {"domain": ["solid", "dotted"], "range": [[1, 0], [4, 2.5]]}, "legend": null}
    }},
   {"mark": {"type": "line", "opacity": 0},
    "encoding": {
     "x": {"field": "t", "type": "quantitative", "scale": {"domain": [0, 4400], "nice": false, "zero": false}, "axis": {"orient": "top", "values": [0, 2000, 4000], "labels": false, "title": "SA intervention", "titleY": -32, "titleBaseline": "alphabetic", "titleFontSize": 18, "titleFontWeight": "bold", "titleColor": "#000000"}},
     "y": {"field": "y", "type": "quantitative", "scale": {"domain": [0, 0.005], "nice": false}, "axis": {"orient": "right", "values": [0, 0.001, 0.002, 0.003, 0.004, 0.005], "labels": false, "title": null}}
    }}
  ]},
 {"width": 212, "height": 248, "transform": [{"filter": "datum.panel === 'A3'"}], "resolve": {"axis": {"x": "independent", "y": "independent"}},
  "layer": [
   {"mark": {"type": "line", "strokeWidth": 3, "clip": true},
    "encoding": {
     "x": {"field": "t", "type": "quantitative", "scale": {"domain": [0, 1500], "nice": false, "zero": false}, "axis": {"orient": "bottom", "values": [0, 500, 1000, 1500], "format": "d", "title": null}},
     "y": {"field": "y", "type": "quantitative", "scale": {"domain": [0, 1.5e-8], "nice": false}, "axis": {"orient": "left", "values": [0, 0.5e-8, 1e-8, 1.5e-8], "labelExpr": "format(datum.value*1e8, '~g')", "title": "×10⁻⁸", "titleAngle": 0, "titleAlign": "left", "titleBaseline": "alphabetic", "titleX": 0, "titleY": -6, "titleFontSize": 15, "titleFontWeight": "normal"}},
     "color": {"field": "severity", "type": "nominal", "title": null, "scale": {"domain": ["Mild", "Severe"], "range": ["#FFBF00", "#E60000"]}, "legend": {"orient": "none", "legendX": 419, "legendY": 602, "direction": "horizontal", "symbolType": "stroke", "symbolSize": 2304, "symbolStrokeWidth": 3, "labelFontSize": 14, "labelFont": "DejaVu Sans", "labelColor": "#262626", "columnPadding": 10, "labelOffset": 4}},
     "strokeDash": {"field": "line", "type": "nominal", "scale": {"domain": ["solid", "dotted"], "range": [[1, 0], [4, 2.5]]}, "legend": null}
    }},
   {"mark": {"type": "line", "opacity": 0},
    "encoding": {
     "x": {"field": "t", "type": "quantitative", "scale": {"domain": [0, 1500], "nice": false, "zero": false}, "axis": {"orient": "top", "values": [0, 500, 1000, 1500], "labels": false, "title": "IB intervention", "titleY": -32, "titleBaseline": "alphabetic", "titleFontSize": 18, "titleFontWeight": "bold", "titleColor": "#000000"}},
     "y": {"field": "y", "type": "quantitative", "scale": {"domain": [0, 1.5e-8], "nice": false}, "axis": {"orient": "right", "values": [0, 0.5e-8, 1e-8, 1.5e-8], "labels": false, "title": null}}
    }}
  ]},
 {"width": 212, "height": 248, "transform": [{"filter": "datum.panel === 'A4'"}], "resolve": {"axis": {"x": "independent", "y": "independent"}},
  "layer": [
   {"mark": {"type": "line", "strokeWidth": 3, "clip": true},
    "encoding": {
     "x": {"field": "t", "type": "quantitative", "scale": {"domain": [0, 200], "nice": false, "zero": false}, "axis": {"orient": "bottom", "values": [0, 100, 200], "format": "d", "title": null}},
     "y": {"field": "y", "type": "quantitative", "scale": {"domain": [0, 1.5e-8], "nice": false}, "axis": {"orient": "left", "values": [0, 0.5e-8, 1e-8, 1.5e-8], "labelExpr": "format(datum.value*1e8, '~g')", "title": "×10⁻⁸", "titleAngle": 0, "titleAlign": "left", "titleBaseline": "alphabetic", "titleX": 0, "titleY": -6, "titleFontSize": 15, "titleFontWeight": "normal"}},
     "color": {"field": "severity", "type": "nominal", "title": null, "scale": {"domain": ["Mild", "Severe"], "range": ["#FFBF00", "#E60000"]}, "legend": {"orient": "none", "legendX": 419, "legendY": 602, "direction": "horizontal", "symbolType": "stroke", "symbolSize": 2304, "symbolStrokeWidth": 3, "labelFontSize": 14, "labelFont": "DejaVu Sans", "labelColor": "#262626", "columnPadding": 10, "labelOffset": 4}},
     "strokeDash": {"field": "line", "type": "nominal", "scale": {"domain": ["solid", "dotted"], "range": [[1, 0], [4, 2.5]]}, "legend": null}
    }},
   {"mark": {"type": "line", "opacity": 0},
    "encoding": {
     "x": {"field": "t", "type": "quantitative", "scale": {"domain": [0, 200], "nice": false, "zero": false}, "axis": {"orient": "top", "values": [0, 100, 200], "labels": false, "title": "IB_MB intervention", "titleY": -32, "titleBaseline": "alphabetic", "titleFontSize": 18, "titleFontWeight": "bold", "titleColor": "#000000"}},
     "y": {"field": "y", "type": "quantitative", "scale": {"domain": [0, 1.5e-8], "nice": false}, "axis": {"orient": "right", "values": [0, 0.5e-8, 1e-8, 1.5e-8], "labels": false, "title": "Uptake 50%", "titleAngle": 270, "titleX": 15, "titleY": 132, "titleAlign": "center", "titleBaseline": "middle", "titleFontSize": 18, "titleFontWeight": "normal"}}
    }}
  ]},
 {"width": 212, "height": 248, "transform": [{"filter": "datum.panel === 'B1'"}], "resolve": {"axis": {"x": "independent", "y": "independent"}},
  "layer": [
   {"mark": {"type": "line", "strokeWidth": 3, "clip": true},
    "encoding": {
     "x": {"field": "t", "type": "quantitative", "scale": {"domain": [0, 785], "nice": false, "zero": false}, "axis": {"orient": "bottom", "values": [0, 200, 400, 600], "format": "d", "title": null}},
     "y": {"field": "y", "type": "quantitative", "scale": {"domain": [0, 0.04], "nice": false}, "axis": {"orient": "left", "values": [0, 0.01, 0.02, 0.03, 0.04], "format": "~g", "title": null}},
     "color": {"field": "severity", "type": "nominal", "title": null, "scale": {"domain": ["Mild", "Severe"], "range": ["#FFBF00", "#E60000"]}, "legend": {"orient": "none", "legendX": 419, "legendY": 602, "direction": "horizontal", "symbolType": "stroke", "symbolSize": 2304, "symbolStrokeWidth": 3, "labelFontSize": 14, "labelFont": "DejaVu Sans", "labelColor": "#262626", "columnPadding": 10, "labelOffset": 4}},
     "strokeDash": {"field": "line", "type": "nominal", "scale": {"domain": ["solid", "dotted"], "range": [[1, 0], [4, 2.5]]}, "legend": null}
    }},
   {"mark": {"type": "line", "opacity": 0},
    "encoding": {
     "x": {"field": "t", "type": "quantitative", "scale": {"domain": [0, 785], "nice": false, "zero": false}, "axis": {"orient": "top", "values": [0, 200, 400, 600], "labels": false, "title": null}},
     "y": {"field": "y", "type": "quantitative", "scale": {"domain": [0, 0.04], "nice": false}, "axis": {"orient": "right", "values": [0, 0.01, 0.02, 0.03, 0.04], "labels": false, "title": null}}
    }}
  ]},
 {"width": 212, "height": 248, "transform": [{"filter": "datum.panel === 'B2'"}], "resolve": {"axis": {"x": "independent", "y": "independent"}},
  "layer": [
   {"mark": {"type": "line", "strokeWidth": 3, "clip": true},
    "encoding": {
     "x": {"field": "t", "type": "quantitative", "scale": {"domain": [0, 400], "nice": false, "zero": false}, "axis": {"orient": "bottom", "values": [0, 200, 400], "format": "d", "title": "Time (days)", "titleX": 241.5, "titleY": 49, "titleAlign": "center", "titleBaseline": "alphabetic", "titleFontSize": 18, "titleFontWeight": "normal"}},
     "y": {"field": "y", "type": "quantitative", "scale": {"domain": [0, 1.5e-8], "nice": false}, "axis": {"orient": "left", "values": [0, 0.5e-8, 1e-8, 1.5e-8], "labelExpr": "format(datum.value*1e8, '~g')", "title": "×10⁻⁸", "titleAngle": 0, "titleAlign": "left", "titleBaseline": "alphabetic", "titleX": 0, "titleY": -6, "titleFontSize": 15, "titleFontWeight": "normal"}},
     "color": {"field": "severity", "type": "nominal", "title": null, "scale": {"domain": ["Mild", "Severe"], "range": ["#FFBF00", "#E60000"]}, "legend": {"orient": "none", "legendX": 419, "legendY": 602, "direction": "horizontal", "symbolType": "stroke", "symbolSize": 2304, "symbolStrokeWidth": 3, "labelFontSize": 14, "labelFont": "DejaVu Sans", "labelColor": "#262626", "columnPadding": 10, "labelOffset": 4}},
     "strokeDash": {"field": "line", "type": "nominal", "scale": {"domain": ["solid", "dotted"], "range": [[1, 0], [4, 2.5]]}, "legend": null}
    }},
   {"mark": {"type": "line", "opacity": 0},
    "encoding": {
     "x": {"field": "t", "type": "quantitative", "scale": {"domain": [0, 400], "nice": false, "zero": false}, "axis": {"orient": "top", "values": [0, 200, 400], "labels": false, "title": null}},
     "y": {"field": "y", "type": "quantitative", "scale": {"domain": [0, 1.5e-8], "nice": false}, "axis": {"orient": "right", "values": [0, 0.5e-8, 1e-8, 1.5e-8], "labels": false, "title": null}}
    }}
  ]},
 {"width": 212, "height": 248, "transform": [{"filter": "datum.panel === 'B3'"}], "resolve": {"axis": {"x": "independent", "y": "independent"}},
  "layer": [
   {"mark": {"type": "line", "strokeWidth": 3, "clip": true},
    "encoding": {
     "x": {"field": "t", "type": "quantitative", "scale": {"domain": [0, 67.3], "nice": false, "zero": false}, "axis": {"orient": "bottom", "values": [0, 20, 40, 60], "format": "d", "title": null}},
     "y": {"field": "y", "type": "quantitative", "scale": {"domain": [0, 1.5e-8], "nice": false}, "axis": {"orient": "left", "values": [0, 0.5e-8, 1e-8, 1.5e-8], "labelExpr": "format(datum.value*1e8, '~g')", "title": "×10⁻⁸", "titleAngle": 0, "titleAlign": "left", "titleBaseline": "alphabetic", "titleX": 0, "titleY": -6, "titleFontSize": 15, "titleFontWeight": "normal"}},
     "color": {"field": "severity", "type": "nominal", "title": null, "scale": {"domain": ["Mild", "Severe"], "range": ["#FFBF00", "#E60000"]}, "legend": {"orient": "none", "legendX": 419, "legendY": 602, "direction": "horizontal", "symbolType": "stroke", "symbolSize": 2304, "symbolStrokeWidth": 3, "labelFontSize": 14, "labelFont": "DejaVu Sans", "labelColor": "#262626", "columnPadding": 10, "labelOffset": 4}},
     "strokeDash": {"field": "line", "type": "nominal", "scale": {"domain": ["solid", "dotted"], "range": [[1, 0], [4, 2.5]]}, "legend": null}
    }},
   {"mark": {"type": "line", "opacity": 0},
    "encoding": {
     "x": {"field": "t", "type": "quantitative", "scale": {"domain": [0, 67.3], "nice": false, "zero": false}, "axis": {"orient": "top", "values": [0, 20, 40, 60], "labels": false, "title": null}},
     "y": {"field": "y", "type": "quantitative", "scale": {"domain": [0, 1.5e-8], "nice": false}, "axis": {"orient": "right", "values": [0, 0.5e-8, 1e-8, 1.5e-8], "labels": false, "title": null}}
    }}
  ]},
 {"width": 212, "height": 248, "transform": [{"filter": "datum.panel === 'B4'"}], "resolve": {"axis": {"x": "independent", "y": "independent"}},
  "layer": [
   {"mark": {"type": "line", "strokeWidth": 3, "clip": true},
    "encoding": {
     "x": {"field": "t", "type": "quantitative", "scale": {"domain": [0, 44.4], "nice": false, "zero": false}, "axis": {"orient": "bottom", "values": [0, 20, 40], "format": "d", "title": null}},
     "y": {"field": "y", "type": "quantitative", "scale": {"domain": [0, 1.5e-8], "nice": false}, "axis": {"orient": "left", "values": [0, 0.5e-8, 1e-8, 1.5e-8], "labelExpr": "format(datum.value*1e8, '~g')", "title": "×10⁻⁸", "titleAngle": 0, "titleAlign": "left", "titleBaseline": "alphabetic", "titleX": 0, "titleY": -6, "titleFontSize": 15, "titleFontWeight": "normal"}},
     "color": {"field": "severity", "type": "nominal", "title": null, "scale": {"domain": ["Mild", "Severe"], "range": ["#FFBF00", "#E60000"]}, "legend": {"orient": "none", "legendX": 419, "legendY": 602, "direction": "horizontal", "symbolType": "stroke", "symbolSize": 2304, "symbolStrokeWidth": 3, "labelFontSize": 14, "labelFont": "DejaVu Sans", "labelColor": "#262626", "columnPadding": 10, "labelOffset": 4}},
     "strokeDash": {"field": "line", "type": "nominal", "scale": {"domain": ["solid", "dotted"], "range": [[1, 0], [4, 2.5]]}, "legend": null}
    }},
   {"mark": {"type": "line", "opacity": 0},
    "encoding": {
     "x": {"field": "t", "type": "quantitative", "scale": {"domain": [0, 44.4], "nice": false, "zero": false}, "axis": {"orient": "top", "values": [0, 20, 40], "labels": false, "title": null}},
     "y": {"field": "y", "type": "quantitative", "scale": {"domain": [0, 1.5e-8], "nice": false}, "axis": {"orient": "right", "values": [0, 0.5e-8, 1e-8, 1.5e-8], "labels": false, "title": "Uptake 90%", "titleAngle": 270, "titleX": 15, "titleY": 132, "titleAlign": "center", "titleBaseline": "middle", "titleFontSize": 18, "titleFontWeight": "normal"}}
    }}
  ]}
]
}
